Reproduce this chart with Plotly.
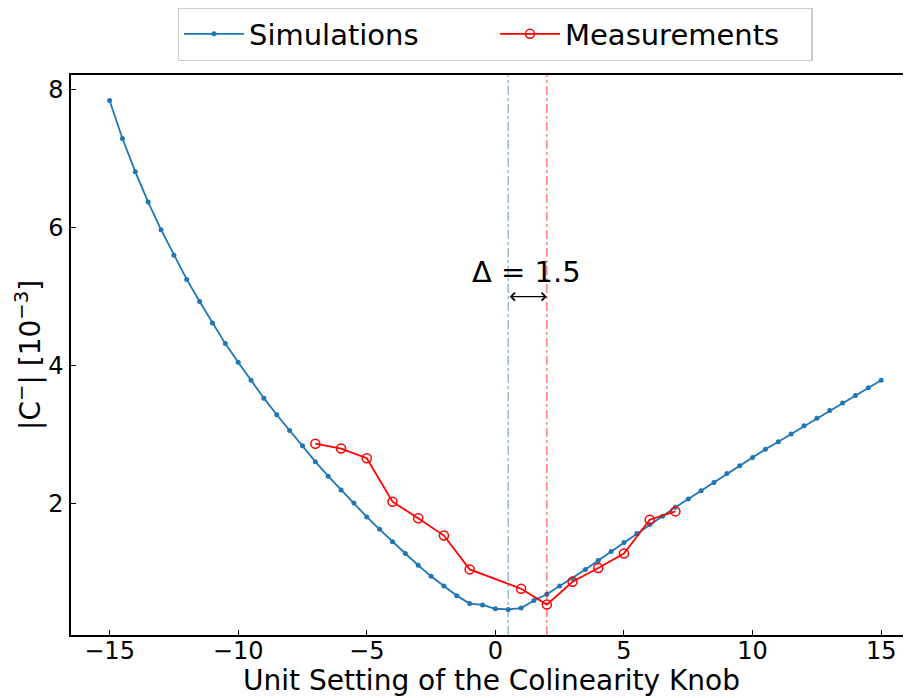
from plotly import graph_objects as go

# simulated |C-| vs knob setting (step 0.5)
sim_x = [i * 0.5 for i in range(-30, 31)]
sim_y = [7.84, 7.29, 6.81, 6.37, 5.97, 5.60, 5.25, 4.93, 4.62, 4.32,
         4.05, 3.79, 3.53, 3.29, 3.06, 2.84, 2.61, 2.40, 2.20, 2.01,
         1.81, 1.63, 1.45, 1.28, 1.11, 0.95, 0.81, 0.67, 0.555, 0.535,
         0.48, 0.47, 0.49, 0.60, 0.69, 0.81, 0.92, 1.05, 1.18, 1.31,
         1.44, 1.57, 1.70, 1.82, 1.95, 2.07, 2.19, 2.31, 2.44, 2.55,
         2.67, 2.79, 2.90, 3.01, 3.13, 3.24, 3.35, 3.46, 3.57, 3.68,
         3.79]

# measured values
meas_x = [-7, -6, -5, -4, -3, -2, -1, 1, 2, 3, 4, 5, 6, 7]
meas_y = [2.87, 2.80, 2.66, 2.03, 1.79, 1.54, 1.05, 0.77, 0.54, 0.87,
          1.07, 1.28, 1.77, 1.89]

sim_min = 0.5
meas_min = 2.0
delta_label = "Δ = 1.5"
arrow_y = 5.0

FONT = "DejaVu Sans"

fig = go.Figure()
fig.add_trace(go.Scatter(
    x=sim_x, y=sim_y, mode="lines+markers", name="Simulations",
    line=dict(color="#1f77b4", width=1.8),
    marker=dict(color="#1f77b4", size=5),
))
fig.add_trace(go.Scatter(
    x=meas_x, y=meas_y, mode="lines+markers", name="Measurements",
    line=dict(color="red", width=1.8),
    marker=dict(symbol="circle-open", color="red", size=9,
                line=dict(width=1.5, color="red")),
))

# vertical markers for the two minima
fig.add_vline(x=sim_min, line=dict(color="rgba(31,119,180,0.5)", width=1.5, dash="dashdot"))
fig.add_vline(x=meas_min, line=dict(color="rgba(255,0,0,0.5)", width=1.5, dash="dashdot"))

fig.add_annotation(x=meas_min, y=arrow_y, ax=sim_min, ay=arrow_y,
                   xref="x", yref="y", axref="x", ayref="y",
                   text="", showarrow=True, arrowhead=4, arrowside="end+start",
                   arrowsize=1.3, arrowwidth=1.2, arrowcolor="black")
fig.add_annotation(x=1.21, y=5.36, xref="x", yref="y",
                   text=delta_label, showarrow=False,
                   font=dict(family=FONT, size=29, color="black"))

# axis titles placed by hand
fig.add_annotation(x=0.5, y=0, xref="paper", yref="paper", yshift=-64,
                   xanchor="center", yanchor="bottom", showarrow=False,
                   text="Unit Setting of the Colinearity Knob",
                   font=dict(family=FONT, size=28, color="black"))
fig.add_annotation(x=0, y=0.5, xref="paper", yref="paper", xshift=-43,
                   xanchor="center", yanchor="middle", showarrow=False, textangle=-90,
                   text="|C<sup>−</sup>| [10<sup>−3</sup>]",
                   font=dict(family=FONT, size=28, color="black"))

# page body adds an 8px offset, so the figure is sized/margined to compensate
fig.update_layout(
    width=903, height=690,
    margin=dict(l=63, r=0, t=67, b=63, autoexpand=False),
    plot_bgcolor="white", paper_bgcolor="white",
    font=dict(family=FONT, size=24, color="black"),
    showlegend=True,
    legend=dict(orientation="h", x=(495 - 71) / 840, xanchor="center", y=1.025, yanchor="bottom",
                bordercolor="#cccccc", borderwidth=1.5, bgcolor="white",
                font=dict(size=29), itemwidth=60,
                entrywidthmode="pixels", entrywidth=241),
)
fig.update_xaxes(
    range=[-16.5, 16.16], tickvals=[-15, -10, -5, 0, 5, 10, 15],
    showline=True, linecolor="black", linewidth=1.5, mirror=True,
    ticks="inside", ticklen=5, tickcolor="black", showgrid=False, zeroline=False,
    automargin=False, ticklabelstandoff=-7,
)
fig.update_yaxes(
    range=[0.10, 8.21], tickvals=[2, 4, 6, 8],
    showline=True, linecolor="black", linewidth=1.5,
    ticks="inside", ticklen=5, tickcolor="black", showgrid=False, zeroline=False,
    automargin=False, ticklabelstandoff=1,
)

fig.write_html("out.html")
